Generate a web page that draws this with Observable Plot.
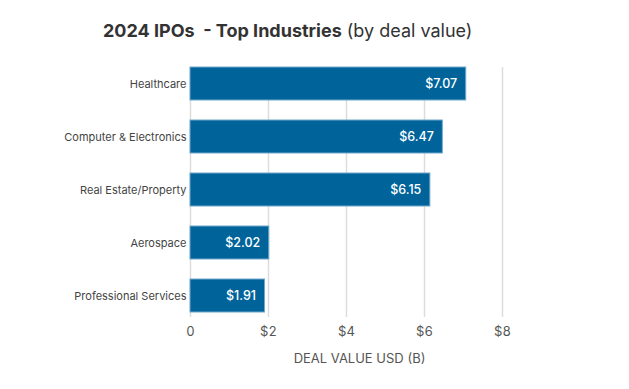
<!DOCTYPE html>
<html>
<head>
<meta charset="utf-8">
<script src="https://cdn.jsdelivr.net/npm/d3@7"></script>
<script src="https://cdn.jsdelivr.net/npm/@observablehq/plot@0.6"></script>
<style>
  body { margin: 0; background: #fff; font-family: Inter, "Noto Sans", sans-serif; }
  #wrap { position: relative; width: 629px; height: 389px; }
  #title { position: absolute; left: 103px; top: 20px; font-size: 18px; color: #333; white-space: pre; height: 35px; }
  #title b { font-weight: 700; }
  #title span { font-weight: 400; }
  #chart { position: absolute; left: 0; top: 55px; }
</style>
</head>
<body>
<div id="wrap">
  <div id="title"><b>2024 IPOs  - Top Industries</b> <span>(by deal value)</span></div>
  <div id="chart"></div>
</div>
<script>
const industries = ["Healthcare", "Computer & Electronics", "Real Estate/Property", "Aerospace", "Professional Services"];
const dealValues = [7.07, 6.47, 6.15, 2.02, 1.91];
const xTicks = [0, 2, 4, 6, 8];
const xLabel = "DEAL VALUE USD (B)";

const data = industries.map((name, i) => ({name, value: dealValues[i]}));

const plot = Plot.plot({
  width: 629,
  height: 334,
  marginTop: 12,
  marginBottom: 72,
  marginLeft: 190,
  marginRight: 127,
  style: {fontFamily: "Inter, 'Noto Sans', sans-serif", background: "transparent"},
  x: {domain: [0, 8], ticks: xTicks, tickFormat: d => d === 0 ? "0" : "$" + d, label: null},
  y: {domain: industries, paddingInner: 0.37, paddingOuter: 0.043, align: 0.065, label: null},
  marks: [
    Plot.gridX(xTicks, {stroke: "#dcdcdc", strokeOpacity: 1, strokeWidth: 1.5}),
    Plot.barX(data, {x: "value", y: "name", fill: "#00649b", stroke: "#6fa8cc", strokeWidth: 1}),
    Plot.text(data, {x: "value", y: "name", text: d => "$" + d.value.toFixed(2), textAnchor: "end", dx: -9, fill: "#fff", fontSize: 12.5, fontWeight: 500}),
    Plot.axisX(xTicks, {tickSize: 0, tickPadding: 9, fontSize: 13, fill: "#555", label: null, tickFormat: d => d === 0 ? "0" : "$" + d}),
    Plot.axisY({tickSize: 0, tickPadding: 4, fontSize: 11, fill: "#444", label: null}),
    Plot.text([xLabel], {frameAnchor: "bottom", dy: 45, dx: 13, fontSize: 13, fill: "#555"})
  ]
});
document.getElementById("chart").appendChild(plot);
</script>
</body>
</html>
